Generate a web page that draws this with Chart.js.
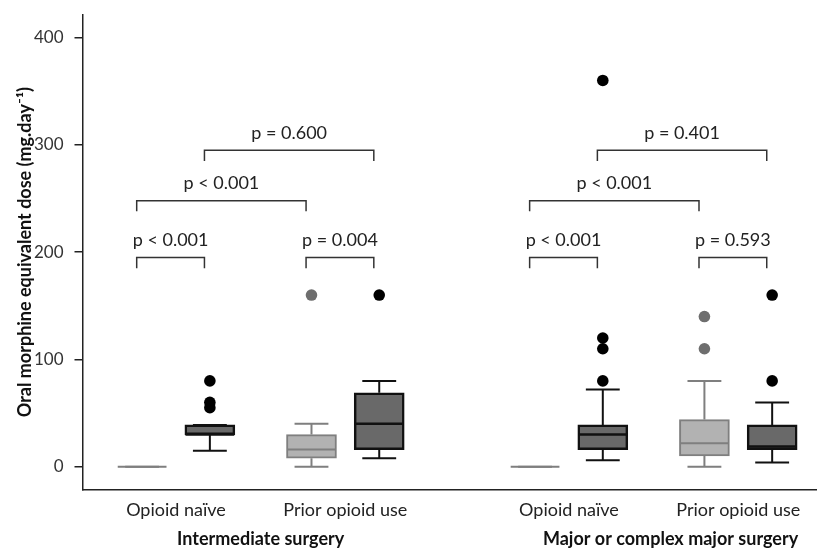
<!DOCTYPE html>
<html>
<head>
<meta charset="utf-8">
<script src="https://cdn.jsdelivr.net/npm/chart.js@4"></script>
<style>
  body { margin: 0; background: #fff; }
</style>
</head>
<body>
<canvas id="doses" width="822" height="550"></canvas>
<script>
// groups and categories along the x axis
const groupLabels = ['Intermediate surgery', 'Major or complex major surgery'];
const categoryLabels = ['Opioid naïve', 'Prior opioid use', 'Opioid naïve', 'Prior opioid use'];
const yTicks = [0, 100, 200, 300, 400];

// light boxes (first box of each pair)
const lightMin = [0, 0, 0, 0];
const lightQ1 = [0, 8, 0, 10];
const lightMedian = [0, 16, 0, 22];
const lightQ3 = [0, 30, 0, 44];
const lightMax = [0, 40, 0, 80];
const lightOutliers = [[], [160], [], [140, 110]];

// dark boxes (second box of each pair)
const darkMin = [15, 8, 6, 4];
const darkQ1 = [30, 16, 16, 16];
const darkMedian = [30, 40, 30, 19];
const darkQ3 = [39, 69, 39, 39];
const darkMax = [39, 80, 72, 60];
const darkOutliers = [[80, 60, 55], [160], [360, 120, 110, 80], [160, 80]];

// significance brackets, boxes numbered 0..7 from the left
const pFrom = [0, 0, 1, 2, 4, 4, 5, 6];
const pTo = [1, 2, 3, 3, 5, 6, 7, 7];
const pLevel = [195, 248, 295, 195, 195, 248, 295, 195];
const pText = ['p < 0.001', 'p < 0.001', 'p = 0.600', 'p = 0.004',
               'p < 0.001', 'p < 0.001', 'p = 0.401', 'p = 0.593'];

// layout: where the boxes sit on the x axis
const slot = [1, 2, 3.5, 4.5, 6.8, 7.8, 9.3, 10.3];
const lightSlot = [0, 2, 4, 6].map(i => slot[i]);
const darkSlot = [1, 3, 5, 7].map(i => slot[i]);
const catPos = [1.5, 4, 7.3, 9.8];
const groupPos = [2.75, 8.8];
const BOX_HALF = 0.36;
const CAP_HALF = 0.25;
const BRACKET_SHIFT = 0.08;
const BRACKET_DROP = 10;

const FONT = 'Lato';
const lightFill = '#b2b2b2', lightLine = '#7f7f7f', lightDot = '#6e6e6e';
const darkFill = '#696969', darkLine = '#111111', darkDot = '#000000';

function boxBars(pos, q1, q3) {
    return pos.map((x, i) => ({x: x, y: [q1[i], q3[i]]}));
}

function medianLines(pos, med) {
    let pts = [];
    pos.forEach((x, i) => {
        pts.push({x: x - BOX_HALF, y: med[i]}, {x: x + BOX_HALF, y: med[i]}, {x: x, y: null});
    });
    return pts;
}

function whiskerLines(pos, min, q1, q3, max) {
    let pts = [];
    pos.forEach((x, i) => {
        pts.push({x: x, y: q3[i]}, {x: x, y: max[i]}, {x: x, y: null});
        pts.push({x: x - CAP_HALF, y: max[i]}, {x: x + CAP_HALF, y: max[i]}, {x: x, y: null});
        pts.push({x: x, y: q1[i]}, {x: x, y: min[i]}, {x: x, y: null});
        pts.push({x: x - CAP_HALF, y: min[i]}, {x: x + CAP_HALF, y: min[i]}, {x: x, y: null});
    });
    return pts;
}

function outlierPoints(pos, outs) {
    let pts = [];
    pos.forEach((x, i) => {
        outs[i].forEach(v => pts.push({x: x, y: v}));
    });
    return pts;
}

function bracketLines() {
    let pts = [];
    pText.forEach((t, i) => {
        let xa = slot[pFrom[i]] - BRACKET_SHIFT;
        let xb = slot[pTo[i]] - BRACKET_SHIFT;
        let lv = pLevel[i];
        pts.push({x: xa, y: lv - BRACKET_DROP}, {x: xa, y: lv}, {x: xb, y: lv},
                 {x: xb, y: lv - BRACKET_DROP}, {x: xb, y: null});
    });
    return pts;
}

const pValueText = {
    id: 'pValueText',
    afterDatasetsDraw(chart) {
        const ctx = chart.ctx;
        const x = chart.scales.x;
        const y = chart.scales.y;
        ctx.save();
        ctx.font = '18px ' + FONT;
        ctx.fillStyle = '#222';
        ctx.textAlign = 'center';
        ctx.textBaseline = 'alphabetic';
        pText.forEach((t, i) => {
            let xa = slot[pFrom[i]] - BRACKET_SHIFT;
            let xb = slot[pTo[i]] - BRACKET_SHIFT;
            ctx.fillText(t, x.getPixelForValue((xa + xb) / 2), y.getPixelForValue(pLevel[i]) - 11.5);
        });
        ctx.restore();
    }
};

const lineStyle = {
    type: 'line',
    pointRadius: 0,
    spanGaps: false,
    fill: false,
    tension: 0
};

new Chart('doses', {
    type: 'bar',
    data: {
        datasets: [
            {
                data: boxBars(lightSlot, lightQ1, lightQ3),
                backgroundColor: lightFill,
                borderColor: lightLine,
                borderWidth: 2,
                borderSkipped: false,
                barThickness: 50,
                grouped: false,
                order: 5
            },
            {
                data: boxBars(darkSlot, darkQ1, darkQ3),
                backgroundColor: darkFill,
                borderColor: darkLine,
                borderWidth: 2.5,
                borderSkipped: false,
                barThickness: 50,
                grouped: false,
                order: 5
            },
            Object.assign({}, lineStyle, {
                data: whiskerLines(lightSlot, lightMin, lightQ1, lightQ3, lightMax),
                borderColor: lightLine, borderWidth: 2, order: 4
            }),
            Object.assign({}, lineStyle, {
                data: whiskerLines(darkSlot, darkMin, darkQ1, darkQ3, darkMax),
                borderColor: darkLine, borderWidth: 2, order: 4
            }),
            Object.assign({}, lineStyle, {
                data: medianLines(lightSlot, lightMedian),
                borderColor: lightLine, borderWidth: 2, order: 3
            }),
            Object.assign({}, lineStyle, {
                data: medianLines(darkSlot, darkMedian),
                borderColor: darkLine, borderWidth: 2.5, order: 3
            }),
            Object.assign({}, lineStyle, {
                data: bracketLines(),
                borderColor: '#333', borderWidth: 1.5, order: 2
            }),
            {
                type: 'scatter',
                data: outlierPoints(lightSlot, lightOutliers),
                backgroundColor: lightDot,
                borderWidth: 0,
                pointRadius: 5.8,
                order: 1
            },
            {
                type: 'scatter',
                data: outlierPoints(darkSlot, darkOutliers),
                backgroundColor: darkDot,
                borderWidth: 0,
                pointRadius: 5.8,
                order: 1
            }
        ]
    },
    options: {
        responsive: false,
        animation: false,
        events: [],
        layout: {
            padding: {top: 15, right: 0, bottom: 0, left: 0}
        },
        plugins: {
            legend: {display: false},
            tooltip: {enabled: false}
        },
        scales: {
            x: {
                type: 'linear',
                position: 'bottom',
                min: 0.12,
                max: 10.95,
                offset: false,
                grid: {display: false, drawTicks: false, offset: false},
                border: {display: true, color: '#222', width: 1.5},
                afterBuildTicks: axis => { axis.ticks = catPos.map(v => ({value: v})); },
                afterFit: axis => { axis.height = 35; },
                ticks: {
                    autoSkip: false,
                    maxRotation: 0,
                    padding: 10,
                    color: '#222',
                    font: {family: FONT, size: 18},
                    callback: (v, i) => categoryLabels[i]
                }
            },
            x2: {
                type: 'linear',
                position: 'bottom',
                min: 0.12,
                max: 10.95,
                offset: false,
                grid: {display: false, drawTicks: false},
                border: {display: false},
                afterBuildTicks: axis => { axis.ticks = groupPos.map(v => ({value: v})); },
                afterFit: axis => { axis.height = 25.7; },
                ticks: {
                    autoSkip: false,
                    maxRotation: 0,
                    padding: 4,
                    color: '#111',
                    font: {family: FONT, size: 18, weight: 'bold'},
                    callback: (v, i) => groupLabels[i]
                }
            },
            y: {
                type: 'linear',
                min: -21,
                max: 421,
                grid: {
                    display: true,
                    drawOnChartArea: false,
                    drawTicks: true,
                    tickLength: 8,
                    color: '#222',
                    lineWidth: 1.5
                },
                border: {display: true, color: '#222', width: 1.5},
                afterBuildTicks: axis => { axis.ticks = yTicks.map(v => ({value: v})); },
                afterFit: axis => {
                    axis.width = 82.5;
                    axis.paddingTop = 0;
                    axis.paddingBottom = 0;
                },
                ticks: {
                    padding: 11,
                    color: '#333',
                    font: {family: FONT, size: 17}
                },
                title: {
                    display: true,
                    text: 'Oral morphine equivalent dose (mg.day⁻¹)',
                    color: '#111',
                    padding: {top: 14, bottom: 0},
                    font: {family: FONT, size: 18, weight: 'bold'}
                }
            }
        }
    },
    plugins: [pValueText]
});
</script>
</body>
</html>
